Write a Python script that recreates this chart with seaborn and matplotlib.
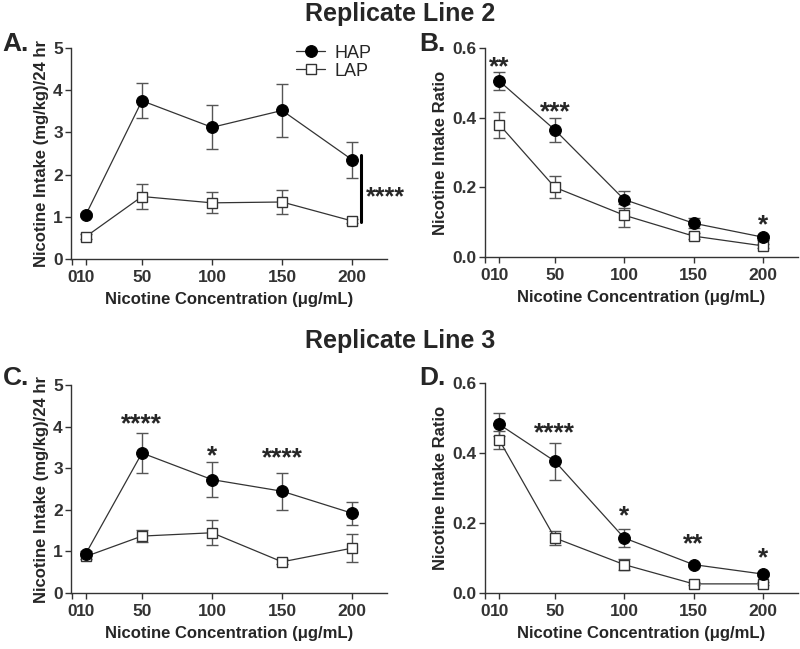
import numpy as np
import pandas as pd
import matplotlib
matplotlib.use("Agg")
import matplotlib.pyplot as plt
import seaborn as sns

# concentrations (ug/mL)
conc = [10, 50, 100, 150, 200]

# Replicate line 2
a_hap = [1.05, 3.75, 3.12, 3.52, 2.35]
a_hap_sem = [0.05, 0.42, 0.52, 0.63, 0.43]
a_lap = [0.53, 1.48, 1.33, 1.35, 0.90]
a_lap_sem = [0.05, 0.30, 0.25, 0.28, 0.05]

b_hap = [0.505, 0.365, 0.165, 0.097, 0.057]
b_hap_sem = [0.025, 0.035, 0.025, 0.015, 0.007]
b_lap = [0.380, 0.200, 0.120, 0.060, 0.032]
b_lap_sem = [0.037, 0.032, 0.033, 0.008, 0.006]

# Replicate line 3
c_hap = [0.95, 3.37, 2.73, 2.45, 1.92]
c_hap_sem = [0.05, 0.48, 0.42, 0.45, 0.28]
c_lap = [0.88, 1.37, 1.45, 0.75, 1.08]
c_lap_sem = [0.05, 0.15, 0.30, 0.06, 0.33]

d_hap = [0.481, 0.376, 0.157, 0.081, 0.054]
d_hap_sem = [0.032, 0.053, 0.027, 0.006, 0.006]
d_lap = [0.436, 0.157, 0.081, 0.026, 0.026]
d_lap_sem = [0.025, 0.020, 0.015, 0.004, 0.004]

# significance stars (x, y, text)
b_stars = [(10, 0.545, "**"), (50, 0.415, "***"), (200, 0.09, "*")]
c_stars = [(50, 4.05, "****"), (100, 3.3, "*"), (150, 3.25, "****")]
d_stars = [(50, 0.455, "****"), (100, 0.22, "*"), (150, 0.14, "**"), (200, 0.10, "*")]

xticks = [0, 10, 50, 100, 150, 200]
xlabel = "Nicotine Concentration (\u03bcg/mL)"

sns.set_theme(style="ticks")
plt.rcParams["font.family"] = ["Liberation Sans", "DejaVu Sans"]
plt.rcParams["axes.edgecolor"] = "#333333"
plt.rcParams["xtick.color"] = "#333333"
plt.rcParams["ytick.color"] = "#333333"

fig = plt.figure(figsize=(8, 6.49), dpi=100)
axA = fig.add_axes([0.089, 0.601, 0.395, 0.325])
axB = fig.add_axes([0.606, 0.604, 0.391, 0.322])
axC = fig.add_axes([0.089, 0.0863, 0.395, 0.320])
axD = fig.add_axes([0.606, 0.0863, 0.391, 0.324])

line_col = "#333333"


def draw_panel(ax, hap, hap_sem, lap, lap_sem, ymax, yticks, ytick_labels, ylabel, legend=False):
    df = pd.DataFrame({
        "conc": conc * 2,
        "val": hap + lap,
        "group": ["HAP"] * len(conc) + ["LAP"] * len(conc),
    })
    ax.errorbar(conc, hap, yerr=hap_sem, fmt="none", ecolor="#555555",
                elinewidth=1.0, capsize=4.5, capthick=1.0, zorder=1)
    ax.errorbar(conc, lap, yerr=lap_sem, fmt="none", ecolor="#555555",
                elinewidth=1.0, capsize=4.5, capthick=1.0, zorder=1)
    sns.lineplot(data=df[df.group == "HAP"], x="conc", y="val", ax=ax,
                 color=line_col, lw=0.9, marker="o", markersize=8.5,
                 markerfacecolor="black", markeredgecolor="black",
                 label="HAP", zorder=3)
    sns.lineplot(data=df[df.group == "LAP"], x="conc", y="val", ax=ax,
                 color=line_col, lw=0.9, marker="s", markersize=7.5,
                 markerfacecolor="white", markeredgecolor="#333333",
                 markeredgewidth=1.0, label="LAP", zorder=2)
    ax.set_xlim(-0.5, 225)
    ax.set_ylim(0, ymax)
    ax.set_xticks(xticks)
    ax.set_xticklabels(["0", "10", "50", "100", "150", "200"], fontweight="bold")
    ax.set_yticks(yticks)
    ax.set_yticklabels(ytick_labels, fontweight="bold")
    ax.set_xlabel(xlabel, fontsize=12, fontweight="bold", labelpad=5)
    ax.set_ylabel(ylabel, fontsize=12, fontweight="bold", labelpad=3)
    ax.tick_params(axis="both", labelsize=12.5, length=4, width=1.0)
    ax.tick_params(axis="x", pad=4)
    ax.tick_params(axis="y", pad=2)
    sns.despine(ax=ax)
    ax.spines["left"].set_linewidth(1.0)
    ax.spines["bottom"].set_linewidth(1.0)
    if legend:
        ax.legend(loc="upper left", bbox_to_anchor=(0.69, 1.05), frameon=False,
                  fontsize=13, handlelength=1.6, handletextpad=0.5,
                  labelspacing=0.05, borderaxespad=0)
    else:
        ax.get_legend().remove()


int_ticks = [0, 1, 2, 3, 4, 5]
int_labels = ["0", "1", "2", "3", "4", "5"]
ratio_ticks = [0.0, 0.2, 0.4, 0.6]
ratio_labels = ["0.0", "0.2", "0.4", "0.6"]

draw_panel(axA, a_hap, a_hap_sem, a_lap, a_lap_sem, 5, int_ticks, int_labels,
           "Nicotine Intake (mg/kg)/24 hr", legend=True)
draw_panel(axB, b_hap, b_hap_sem, b_lap, b_lap_sem, 0.6, ratio_ticks, ratio_labels,
           "Nicotine Intake Ratio")
draw_panel(axC, c_hap, c_hap_sem, c_lap, c_lap_sem, 5, int_ticks, int_labels,
           "Nicotine Intake (mg/kg)/24 hr")
draw_panel(axD, d_hap, d_hap_sem, d_lap, d_lap_sem, 0.6, ratio_ticks, ratio_labels,
           "Nicotine Intake Ratio")

# overall group effect bar in panel A
axA.plot([206, 206], [0.87, 2.47], color="black", lw=2.2, clip_on=False)
axA.text(210, 1.45, "****", fontsize=18, fontweight="bold", ha="left",
         va="center", clip_on=False)

for ax, stars in ((axB, b_stars), (axC, c_stars), (axD, d_stars)):
    for x, y, s in stars:
        ax.text(x, y, s, fontsize=19, fontweight="bold", ha="center", va="center")

# titles and panel letters
fig.text(0.5, 0.978, "Replicate Line 2", ha="center", va="center",
         fontsize=18, fontweight="bold")
fig.text(0.5, 0.474, "Replicate Line 3", ha="center", va="center",
         fontsize=18, fontweight="bold")
for x, y, s in ((0.003, 0.932, "A."), (0.524, 0.932, "B."),
                (0.003, 0.418, "C."), (0.524, 0.418, "D.")):
    fig.text(x, y, s, fontsize=19, fontweight="bold", ha="left", va="center")

fig.savefig("out.png", dpi=100)
